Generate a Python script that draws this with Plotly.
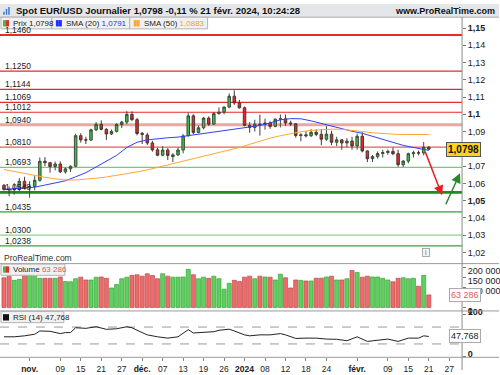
import plotly.graph_objects as go

FONT = "Liberation Sans Narrow, Liberation Sans, Arial, sans-serif"

# ------------------------------------------------------------------ data
# daily bars, 25 Oct 2023 -> 21 Feb 2024 (index = trading-day number)
bar_index = list(range(84))
opens = [1.0589, 1.0565, 1.0563, 1.0566, 1.0612, 1.0574, 1.0582, 1.0618, 1.0728, 1.0720,
         1.0698, 1.0712, 1.0667, 1.0684, 1.0699, 1.0876, 1.0852, 1.0851, 1.0910, 1.0942,
         1.0913, 1.0886, 1.0901, 1.0941, 1.0955, 1.1000, 1.0969, 1.0890, 1.0880, 1.0834,
         1.0794, 1.0763, 1.0793, 1.0755, 1.0765, 1.0793, 1.0875, 1.0991, 1.0895, 1.0922,
         1.0978, 1.0943, 1.1004, 1.1012, 1.1042, 1.1105, 1.1066, 1.1038, 1.0936, 1.0924,
         1.0943, 1.0941, 1.0950, 1.0930, 1.0972, 1.0974, 1.0950, 1.0945, 1.0877, 1.0881,
         1.0876, 1.0896, 1.0884, 1.0856, 1.0885, 1.0838, 1.0852, 1.0834, 1.0845, 1.0817,
         1.0873, 1.0788, 1.0743, 1.0755, 1.0773, 1.0779, 1.0785, 1.0772, 1.0708, 1.0729,
         1.0772, 1.0777, 1.0776, 1.0809]
highs = [1.0595, 1.0582, 1.0601, 1.0630, 1.0638, 1.0612, 1.0642, 1.0750, 1.0752, 1.0724,
         1.0726, 1.0727, 1.0692, 1.0704, 1.0887, 1.0890, 1.0870, 1.0917, 1.0955, 1.0965,
         1.0920, 1.0912, 1.0948, 1.0962, 1.1018, 1.1017, 1.0979, 1.0897, 1.0893, 1.0846,
         1.0806, 1.0815, 1.0804, 1.0775, 1.0807, 1.0885, 1.1009, 1.1000, 1.0935, 1.0985,
         1.0988, 1.1013, 1.1040, 1.1046, 1.1121, 1.1139, 1.1083, 1.1045, 1.0955, 1.0969,
         1.0998, 1.0975, 1.0960, 1.0975, 1.0999, 1.0999, 1.0963, 1.0950, 1.0890, 1.0903,
         1.0914, 1.0913, 1.0915, 1.0932, 1.0905, 1.0870, 1.0856, 1.0862, 1.0870, 1.0888,
         1.0896, 1.0790, 1.0764, 1.0785, 1.0795, 1.0796, 1.0807, 1.0794, 1.0735, 1.0778,
         1.0789, 1.0790, 1.0839, 1.0815]
lows = [1.0558, 1.0525, 1.0534, 1.0555, 1.0568, 1.0517, 1.0560, 1.0610, 1.0700, 1.0662,
        1.0675, 1.0660, 1.0656, 1.0665, 1.0696, 1.0836, 1.0828, 1.0845, 1.0903, 1.0907,
        1.0852, 1.0880, 1.0895, 1.0921, 1.0942, 1.0962, 1.0878, 1.0828, 1.0822, 1.0784,
        1.0757, 1.0757, 1.0735, 1.0723, 1.0760, 1.0774, 1.0873, 1.0885, 1.0890, 1.0913,
        1.0933, 1.0941, 1.0998, 1.1000, 1.1036, 1.1055, 1.1033, 1.0930, 1.0893, 1.0900,
        1.0877, 1.0911, 1.0916, 1.0925, 1.0924, 1.0933, 1.0932, 1.0865, 1.0844, 1.0866,
        1.0868, 1.0873, 1.0821, 1.0846, 1.0821, 1.0816, 1.0795, 1.0808, 1.0795, 1.0795,
        1.0780, 1.0723, 1.0723, 1.0743, 1.0750, 1.0766, 1.0763, 1.0696, 1.0695, 1.0716,
        1.0750, 1.0762, 1.0762, 1.0795]
closes = [1.0565, 1.0563, 1.0566, 1.0612, 1.0574, 1.0580, 1.0618, 1.0728, 1.0720, 1.0698,
          1.0712, 1.0667, 1.0684, 1.0699, 1.0876, 1.0852, 1.0851, 1.0910, 1.0942, 1.0913,
          1.0886, 1.0901, 1.0941, 1.0955, 1.1000, 1.0969, 1.0889, 1.0884, 1.0834, 1.0794,
          1.0763, 1.0793, 1.0762, 1.0765, 1.0793, 1.0875, 1.0991, 1.0895, 1.0922, 1.0978,
          1.0943, 1.1004, 1.1012, 1.1042, 1.1105, 1.1066, 1.1038, 1.0936, 1.0924, 1.0943,
          1.0941, 1.0950, 1.0930, 1.0972, 1.0974, 1.0950, 1.0945, 1.0877, 1.0881, 1.0876,
          1.0896, 1.0884, 1.0856, 1.0885, 1.0838, 1.0852, 1.0834, 1.0845, 1.0817, 1.0873,
          1.0788, 1.0743, 1.0755, 1.0773, 1.0779, 1.0785, 1.0772, 1.0708, 1.0729, 1.0772,
          1.0777, 1.0776, 1.0809, 1.0798]
volumes = [149000, 157000, 136000, 141000, 164000, 164000, 157000, 146000, 146000, 146000,
           146000, 153000, 130000, 129000, 144000, 152000, 138000, 138000, 152000, 153000,
           146000, 98000, 115000, 144000, 152000, 161000, 164000, 157000, 169000, 160000,
           144000, 169000, 157000, 152000, 152000, 153000, 191000, 164000, 144000, 152000,
           146000, 157000, 144000, 92000, 121000, 136000, 130000, 152000, 157000, 144000,
           157000, 153000, 152000, 138000, 167000, 149000, 98000, 138000, 136000, 133000,
           133000, 147000, 147000, 153000, 157000, 138000, 138000, 144000, 185000, 175000,
           152000, 157000, 153000, 153000, 146000, 138000, 129000, 146000, 149000, 144000,
           146000, 107000, 161000, 63286]

sma20_idx = [0, 2, 4, 6, 8, 10, 12, 14, 16, 18, 20, 22, 24, 26, 28, 30, 32, 34, 36, 38, 40,
             42, 44, 46, 48, 50, 52, 54, 56, 58, 60, 62, 64, 66, 68, 70, 72, 74, 76, 78, 80, 82, 83]
sma20_val = [1.0565, 1.0568, 1.0572, 1.0578, 1.0590, 1.0602, 1.0615, 1.0638, 1.0662, 1.0695,
             1.0728, 1.0762, 1.0808, 1.0838, 1.0852, 1.0860, 1.0864, 1.0868, 1.0876, 1.0884,
             1.0892, 1.0900, 1.0912, 1.0920, 1.0924, 1.0935, 1.0950, 1.0968, 1.0975, 1.0974,
             1.0962, 1.0946, 1.0930, 1.0915, 1.0902, 1.0890, 1.0872, 1.0852, 1.0836, 1.0820,
             1.0808, 1.0796, 1.0791]
sma50_idx = sma20_idx
sma50_val = [1.0680, 1.0668, 1.0655, 1.0645, 1.0635, 1.0626, 1.0620, 1.0619, 1.0623, 1.0630,
             1.0637, 1.0646, 1.0656, 1.0666, 1.0678, 1.0692, 1.0706, 1.0722, 1.0738, 1.0752,
             1.0766, 1.0778, 1.0792, 1.0808, 1.0826, 1.0845, 1.0862, 1.0876, 1.0889, 1.0899,
             1.0907, 1.0912, 1.0914, 1.0913, 1.0908, 1.0900, 1.0893, 1.0888, 1.0885, 1.0883,
             1.0882, 1.0882, 1.0883]

rsi_idx = [0, 2, 4, 6, 7, 9, 11, 12, 13, 14, 16, 18, 20, 22, 24, 25, 27, 28, 30, 32, 34, 35,
           36, 37, 38, 40, 41, 42, 44, 45, 47, 48, 50, 52, 54, 55, 57, 59, 61, 63, 65, 67, 69,
           71, 73, 75, 77, 79, 81, 82, 83]
rsi_val = [46.9, 46.9, 49.2, 53.0, 60.7, 60.0, 54.5, 56.8, 57.0, 68.4, 67.0, 70.8, 64.6, 66.0,
           70.8, 68.4, 56.8, 51.5, 46.9, 43.8, 46.9, 54.5, 63.8, 56.0, 56.8, 59.0, 59.0, 62.3,
           65.0, 60.7, 51.5, 49.2, 51.5, 51.5, 54.5, 51.5, 43.0, 43.8, 43.8, 41.5, 41.0, 37.6,
           46.9, 36.0, 39.0, 41.5, 36.0, 43.8, 43.8, 49.2, 47.768]

date_tick_idx = [5, 11, 15, 19, 23, 27, 31, 35, 39, 43, 47, 51, 55, 59, 63, 69, 75, 79, 83, 87]
date_tick_text = ["<b>nov.</b>", "09", "15", "21", "27", "<b>déc.</b>", "07", "13", "19", "26",
                  "<b>2024</b>", "08", "12", "18", "24", "<b>févr.</b>", "09", "15", "21", "27"]

# 1,08 and 50 000 sit under the last-value boxes in the reference, so they are not listed
price_tick_vals = [1.02, 1.03, 1.04, 1.05, 1.06, 1.07, 1.09, 1.10, 1.11, 1.12, 1.13, 1.14, 1.15]
price_tick_text = ["1,02", "1,03", "1,04", "<b>1,05</b>", "1,06", "1,07", "1,09", "<b>1,1</b>",
                   "1,11", "1,12", "1,13", "1,14", "<b>1,15</b>"]
vol_tick_vals = [0, 100000, 150000, 200000]
vol_tick_text = ["<b>0</b>", "100 000", "150 000", "200 000"]
rsi_tick_vals = [0, 100]
rsi_tick_text = ["<b>0</b>", "<b>100</b>"]
rsi_bands = [70, 30]

level_values = [1.1460, 1.1250, 1.1144, 1.1069, 1.1012, 1.0940, 1.0810, 1.0693, 1.0548, 1.0435, 1.0300, 1.0238]
level_labels = ["1,1460", "1,1250", "1,1144", "1,1069", "1,1012", "1,0940", "1,0810", "1,0693",
                "1,0548", "1,0435", "1,0300", "1,0238"]

# drawn scenario arrows: (tail index, tail price, head index, head price)
arrow_down = (82.2, 1.0791, 85.6, 1.0531)
arrow_up = (86.2, 1.0470, 89.1, 1.0659)

last_price = 1.0798
last_sma20 = 1.0791
last_sma50 = 1.0883
last_volume = "63 286"
last_rsi = "47,768"
title_text = "Spot EUR/USD Journalier 1,0798 -0,11 % 21 févr. 2024, 10:24:28"

# ------------------------------------------------------------------ styles
level_colors = ["#e42a2a", "#e42a2a", "#e42a2a", "#e42a2a", "#e42a2a", "#f3a3a3", "#e85a5a",
                "#7cc67c", "#1f8a1f", "#3a9e3a", "#8fd08f", "#3aa03a"]
level_widths = [2, 1.2, 1.2, 1.2, 1.2, 3, 1.2, 1.2, 2.6, 1.2, 1.2, 1.2]

W, H = 500, 375


def py(y):
    return 1 - y / H


def px(x):
    return x / W


def fr(v):
    return f"{v:.4f}".replace(".", ",")


XDOM = [0, px(463)]
XRANGE = [-0.78, 89.5]

fig = go.Figure()
fig.add_trace(go.Candlestick(
    x=bar_index, open=opens, high=highs, low=lows, close=closes,
    increasing=dict(fillcolor="#3cbf3c", line=dict(color="#3d4a3d", width=1)),
    decreasing=dict(fillcolor="#e52a2a", line=dict(color="#4a3636", width=1)),
    whiskerwidth=0, xaxis="x", yaxis="y", showlegend=False, hoverinfo="skip"))
fig.add_trace(go.Scatter(x=sma20_idx, y=sma20_val, mode="lines", line=dict(color="#3040ff", width=1),
                         xaxis="x", yaxis="y", showlegend=False, hoverinfo="skip"))
fig.add_trace(go.Scatter(x=sma50_idx, y=sma50_val, mode="lines", line=dict(color="#ffa733", width=1),
                         xaxis="x", yaxis="y", showlegend=False, hoverinfo="skip"))

up = [c >= o for o, c in zip(opens, closes)]
vol_fill = ["#5fcf5f" if u else "#ec6c6c" for u in up]
vol_edge = ["#2f9a2f" if u else "#b83a3a" for u in up]
fig.add_trace(go.Bar(x=bar_index, y=volumes, width=0.8,
                     marker=dict(color=vol_fill, line=dict(color=vol_edge, width=0.6)),
                     xaxis="x2", yaxis="y2", showlegend=False, hoverinfo="skip"))
fig.add_trace(go.Scatter(x=rsi_idx, y=rsi_val, mode="lines", line=dict(color="#222222", width=1),
                         xaxis="x3", yaxis="y3", showlegend=False, hoverinfo="skip"))

tickfont = dict(family=FONT, size=9, color="#222")
common_x = dict(domain=XDOM, range=XRANGE, showgrid=False, zeroline=False, fixedrange=True)
common_y = dict(side="right", showgrid=False, zeroline=False, ticks="outside", ticklen=3,
                tickcolor="#777", tickfont=tickfont, tickmode="array", fixedrange=True)

fig.update_layout(
    width=W, height=H, margin=dict(l=0, r=0, t=0, b=0),
    paper_bgcolor="white", plot_bgcolor="white", hovermode=False, showlegend=False,
    xaxis=dict(**common_x, anchor="y", showticklabels=False, rangeslider=dict(visible=False)),
    xaxis2=dict(**common_x, anchor="y2", showticklabels=False),
    xaxis3=dict(**common_x, anchor="y3", showticklabels=True, tickmode="array",
                tickvals=date_tick_idx, ticktext=date_tick_text, ticks="outside", ticklen=3,
                tickcolor="#888", tickfont=dict(family=FONT, size=8.5, color="#222")),
    yaxis=dict(**common_y, anchor="x", domain=[py(266), py(14)], range=[1.0135, 1.1560],
               tickvals=price_tick_vals, ticktext=price_tick_text),
    yaxis2=dict(**common_y, anchor="x2", domain=[py(314.5), py(266)], range=[-17073, 219512],
                tickvals=vol_tick_vals, ticktext=vol_tick_text, ticklabelshift=3),
    yaxis3=dict(**common_y, anchor="x3", domain=[py(362), py(314.5)], range=[-1.7, 108.2],
                tickvals=rsi_tick_vals, ticktext=rsi_tick_text, ticklabelshift=-3),
)

shapes = []
# support / resistance levels
for lv, col, wd in zip(level_values, level_colors, level_widths):
    shapes.append(dict(type="line", xref="x domain", yref="y", x0=0, x1=1, y0=lv, y1=lv,
                       line=dict(color=col, width=wd), layer="below"))
# RSI 70/30 bands
for b in rsi_bands:
    shapes.append(dict(type="line", xref="x3 domain", yref="y3", x0=0, x1=1, y0=b, y1=b,
                       line=dict(color="#9a9a9a", width=1, dash="dash"), layer="below"))
# title bar
shapes.append(dict(type="rect", xref="paper", yref="paper", x0=0, x1=1, y0=py(13.5), y1=1,
                   fillcolor="#e4e6e9", line=dict(width=0), layer="above"))
shapes.append(dict(type="line", xref="paper", yref="paper", x0=0, x1=1, y0=py(13.5), y1=py(13.5),
                   line=dict(color="#a8a8a8", width=1)))
# title icon
for xi, top in [(4, 8), (6.5, 5), (9, 3)]:
    shapes.append(dict(type="line", xref="paper", yref="paper", x0=px(xi), x1=px(xi),
                       y0=py(11), y1=py(top), line=dict(color="#3a7bd5", width=1.5)))
# panel separators and right axis line
for yy in (266, 314.5, 362):
    shapes.append(dict(type="line", xref="paper", yref="paper", x0=0, x1=1, y0=py(yy), y1=py(yy),
                       line=dict(color="#9a9a9a", width=1)))
shapes.append(dict(type="line", xref="paper", yref="paper", x0=px(463), x1=px(463), y0=0, y1=py(13.5),
                   line=dict(color="#8a8a8a", width=1)))
# legend boxes
legend_boxes = [(1, 52), (52, 130), (130, 208)]
for x0, x1 in legend_boxes:
    shapes.append(dict(type="rect", xref="paper", yref="paper", x0=px(x0), x1=px(x1),
                       y0=py(25.5), y1=py(13.5), fillcolor="#f1f1f1", line=dict(color="#b4b4b4", width=1)))
for (y0, y1, x1) in [(266.5, 278, 65), (315, 326.5, 64)]:
    shapes.append(dict(type="rect", xref="paper", yref="paper", x0=px(1), x1=px(x1),
                       y0=py(y1), y1=py(y0), fillcolor="#f1f1f1", line=dict(color="#b4b4b4", width=1)))
# legend icons
icons = [(3, "#e52a2a", "#3cbf3c", 16.5), (56, "#2030ff", "#2030ff", 16.5), (134, "#ffa733", "#ffa733", 16.5),
         (3, "#e52a2a", "#3cbf3c", 268.8), (3, "#111111", "#111111", 317.8)]
for xi, c1, c2, yt in icons:
    shapes.append(dict(type="rect", xref="paper", yref="paper", x0=px(xi), x1=px(xi + 3),
                       y0=py(yt + 6.5), y1=py(yt), fillcolor=c2, line=dict(width=0)))
    shapes.append(dict(type="rect", xref="paper", yref="paper", x0=px(xi + 3), x1=px(xi + 6),
                       y0=py(yt + 6.5), y1=py(yt), fillcolor=c1, line=dict(width=0)))
fig.update_layout(shapes=shapes)

ann = []
small = dict(family=FONT, size=8.5, color="#222")
legfont = dict(family=FONT, size=8, color="#222")
for lv, lab in zip(level_values, level_labels):
    ann.append(dict(xref="paper", yref="y", x=px(3), y=lv, text=lab, showarrow=False,
                    xanchor="left", yanchor="bottom", yshift=-2, font=small))
ann.append(dict(xref="paper", yref="paper", x=px(14), y=py(7), text="<b>" + title_text + "</b>",
                showarrow=False, xanchor="left", yanchor="middle",
                font=dict(family=FONT, size=9.5, color="#111")))
ann.append(dict(xref="paper", yref="paper", x=px(498), y=py(7), text="<b>www.ProRealTime.com</b>",
                showarrow=False, xanchor="right", yanchor="middle",
                font=dict(family=FONT, size=9, color="#111")))
ann.append(dict(xref="paper", yref="paper", x=px(11), y=py(19.5), text="Prix " + fr(last_price),
                showarrow=False, xanchor="left", yanchor="middle", font=legfont))
ann.append(dict(xref="paper", yref="paper", x=px(64), y=py(19.5),
                text="SMA (20) <span style='color:#2030ff'>" + fr(last_sma20) + "</span>",
                showarrow=False, xanchor="left", yanchor="middle", font=legfont))
ann.append(dict(xref="paper", yref="paper", x=px(142), y=py(19.5),
                text="SMA (50) <span style='color:#f5a020'>" + fr(last_sma50) + "</span>",
                showarrow=False, xanchor="left", yanchor="middle", font=legfont))
ann.append(dict(xref="paper", yref="paper", x=px(11), y=py(272.2),
                text="Volume <span style='color:#e25a5a'>" + last_volume + "</span>",
                showarrow=False, xanchor="left", yanchor="middle", font=legfont))
ann.append(dict(xref="paper", yref="paper", x=px(11), y=py(321),
                text="RSI (14) " + last_rsi, showarrow=False, xanchor="left", yanchor="middle", font=legfont))
ann.append(dict(xref="paper", yref="paper", x=px(2), y=py(260.5), text="ProRealTime.com",
                showarrow=False, xanchor="left", yanchor="middle", font=dict(family=FONT, size=8.5, color="#333")))
ann.append(dict(xref="paper", yref="paper", x=px(431), y=py(259), text="i", showarrow=False,
                font=dict(family=FONT, size=7, color="#666"), bordercolor="#aaa", borderwidth=1,
                borderpad=0, bgcolor="#f4f4f4", width=6, height=7))
# last value boxes on the right axis
ann.append(dict(xref="paper", yref="y", x=px(482), y=last_price, text="<b>" + fr(last_price) + "</b>",
                showarrow=False, bgcolor="#ffd21f", bordercolor="#555", borderwidth=1, borderpad=1,
                font=dict(family=FONT, size=10, color="#111")))
ann.append(dict(xref="paper", yref="y2", x=px(482), y=volumes[-1], text=last_volume,
                showarrow=False, bgcolor="white", bordercolor="#aaa", borderwidth=1, borderpad=1,
                font=dict(family=FONT, size=9, color="#e25a5a")))
ann.append(dict(xref="paper", yref="y3", x=px(482), y=rsi_val[-1], text=last_rsi,
                showarrow=False, bgcolor="white", bordercolor="#aaa", borderwidth=1, borderpad=1,
                font=dict(family=FONT, size=9, color="#222")))
# scenario arrows
for (tx, ty, hx, hy), col in [(arrow_down, "#e52222"), (arrow_up, "#2a8a2a")]:
    ann.append(dict(xref="x", yref="y", axref="x", ayref="y", x=hx, y=hy, ax=tx, ay=ty, text="",
                    showarrow=True, arrowhead=2, arrowsize=1.3, arrowwidth=1.5, arrowcolor=col, standoff=0))
fig.update_layout(annotations=ann)

fig.write_html("out.html", config={"displayModeBar": False, "staticPlot": True},
               post_script="document.body.style.margin='0px';")
